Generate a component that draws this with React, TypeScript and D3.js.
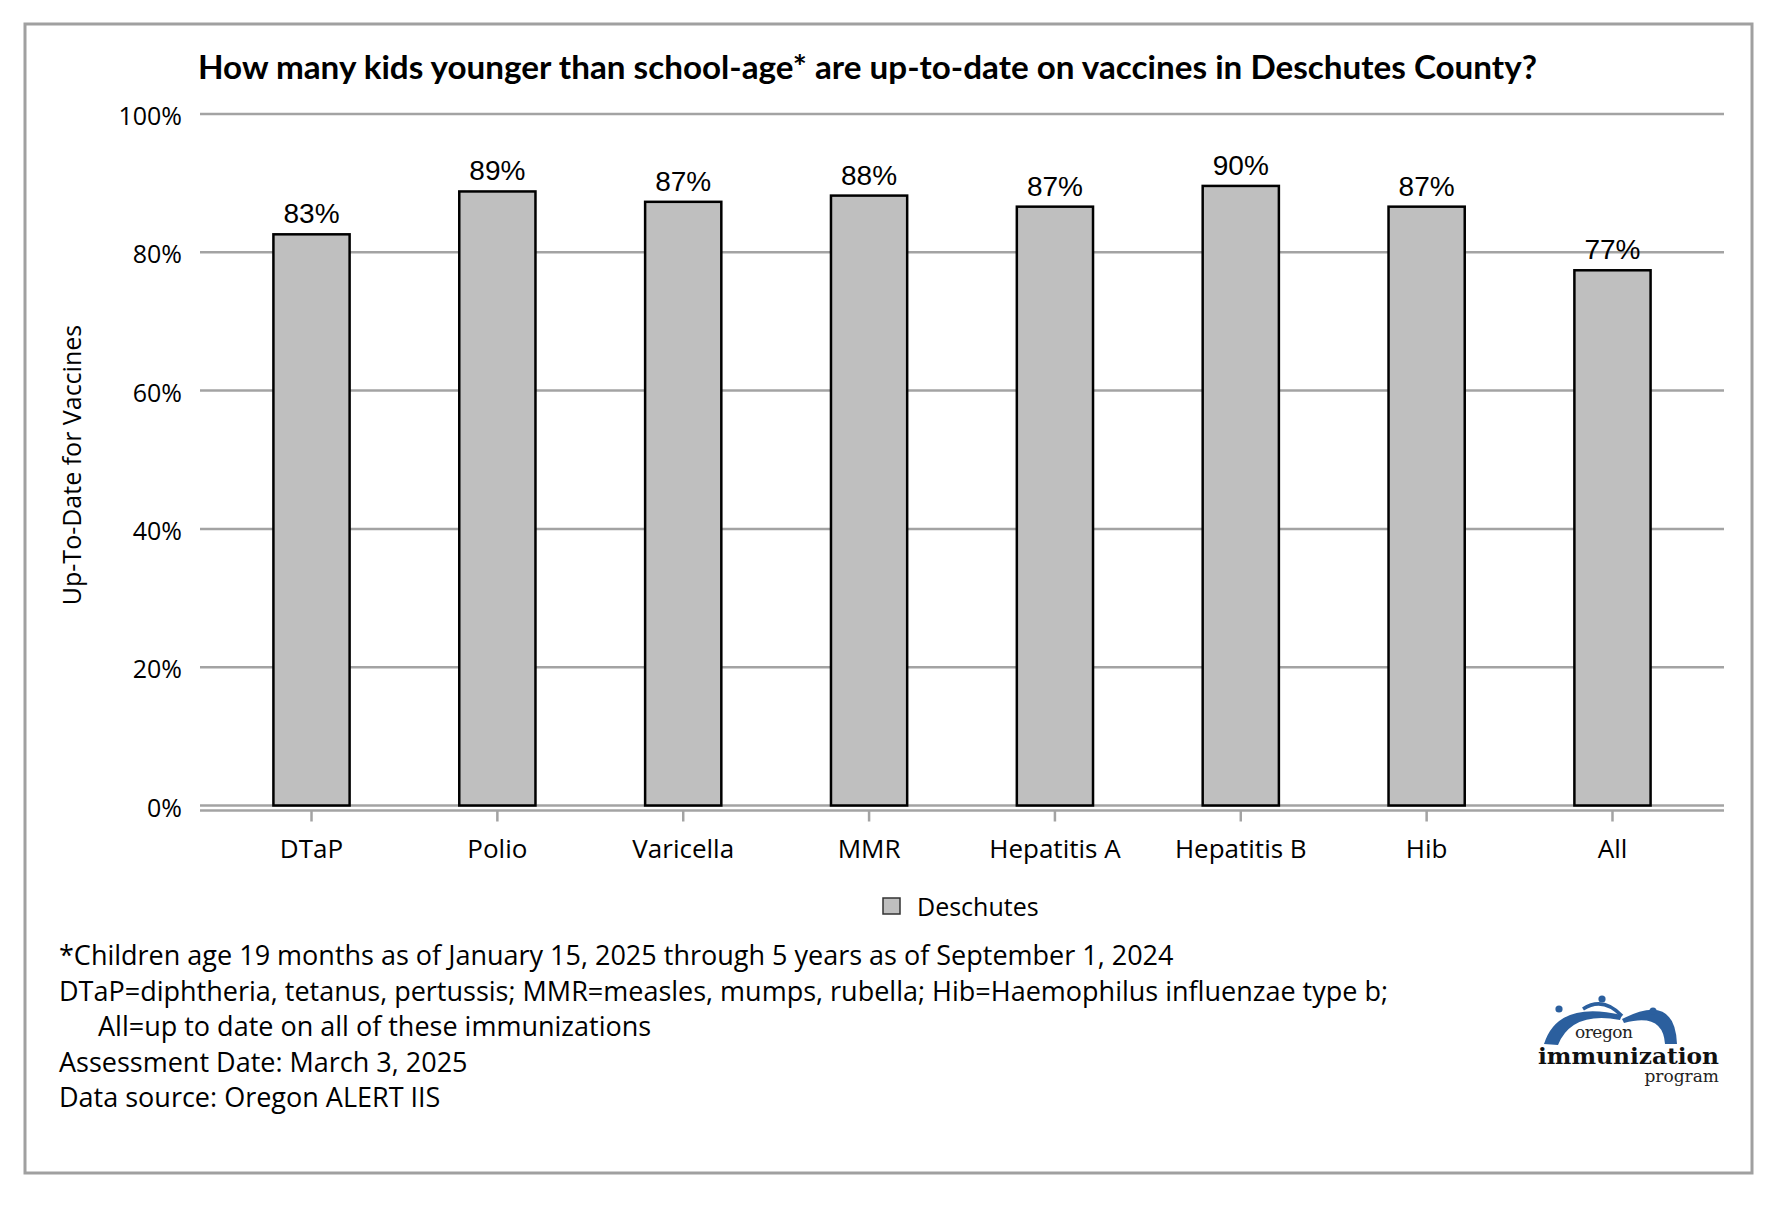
import React, { useEffect, useRef } from 'react';
import * as d3 from 'd3';

const categories = ['DTaP', 'Polio', 'Varicella', 'MMR', 'Hepatitis A', 'Hepatitis B', 'Hib', 'All'];
const upToDate = [82.6, 88.8, 87.3, 88.2, 86.6, 89.6, 86.6, 77.4];
const yTicks = [0, 20, 40, 60, 80, 100];
const seriesName = 'Deschutes';

const title = 'How many kids younger than school-age* are up-to-date on vaccines in Deschutes County?';
const yTitle = 'Up-To-Date for Vaccines';
const footnotes = [
  { text: '*Children age 19 months as of January 15, 2025 through 5 years as of September 1, 2024', indent: false },
  { text: 'DTaP=diphtheria, tetanus, pertussis; MMR=measles, mumps, rubella; Hib=Haemophilus influenzae type b;', indent: false },
  { text: 'All=up to date on all of these immunizations', indent: true },
  { text: 'Assessment Date: March 3, 2025', indent: false },
  { text: 'Data source: Oregon ALERT IIS', indent: false },
];

const W = 1784;
const H = 1212;
const SANS = '"Open Sans", "Noto Sans", sans-serif';
const GRID = '#a3a3a3';

const App: React.FC = () => {
  const svgRef = useRef<SVGSVGElement>(null);

  useEffect(() => {
    if (!svgRef.current) return;
    const svg = d3.select(svgRef.current);
    svg.selectAll('*').remove();

    const x = d3.scaleBand<string>()
      .domain(categories)
      .range([200, 1724])
      .paddingInner(0)
      .paddingOuter(0.1);
    const y = d3.scaleLinear().domain([0, 100]).range([805.5, 114]);
    const barW = x.bandwidth() * 0.41;
    const cx = (c: string) => (x(c) || 0) + x.bandwidth() / 2;

    // frame
    svg.append('rect')
      .attr('x', 25).attr('y', 24)
      .attr('width', 1727).attr('height', 1149)
      .attr('fill', '#fff')
      .attr('stroke', '#a0a0a0')
      .attr('stroke-width', 3);

    // title
    svg.append('text')
      .attr('x', 198).attr('y', 79)
      .attr('font-family', 'Lato, "Open Sans", sans-serif')
      .attr('font-weight', 700)
      .attr('font-size', 32)
      .attr('textLength', 1339)
      .attr('lengthAdjust', 'spacingAndGlyphs')
      .attr('fill', '#000')
      .text(title);

    // gridlines + y labels
    const grid = svg.append('g');
    yTicks.forEach(t => {
      grid.append('line')
        .attr('x1', 200).attr('x2', 1724)
        .attr('y1', y(t)).attr('y2', y(t))
        .attr('stroke', GRID).attr('stroke-width', 2.5);
      grid.append('text')
        .attr('x', 182).attr('y', y(t) + 11)
        .attr('text-anchor', 'end')
        .attr('font-family', SANS)
        .attr('font-size', 25)
        .text(`${t}%`);
    });
    // floor line under the axis
    grid.append('line')
      .attr('x1', 200).attr('x2', 1724)
      .attr('y1', y(0) + 5).attr('y2', y(0) + 5)
      .attr('stroke', GRID).attr('stroke-width', 2.5);

    // x ticks + labels
    categories.forEach(c => {
      grid.append('line')
        .attr('x1', cx(c)).attr('x2', cx(c))
        .attr('y1', y(0) + 5).attr('y2', y(0) + 16)
        .attr('stroke', GRID).attr('stroke-width', 2.5);
      grid.append('text')
        .attr('x', cx(c)).attr('y', 858)
        .attr('text-anchor', 'middle')
        .attr('font-family', SANS)
        .attr('font-size', 26)
        .text(c);
    });

    // bars
    const bars = svg.append('g');
    categories.forEach((c, i) => {
      const v = upToDate[i];
      bars.append('rect')
        .attr('x', cx(c) - barW / 2)
        .attr('y', y(v))
        .attr('width', barW)
        .attr('height', y(0) - y(v))
        .attr('fill', '#bfbfbf')
        .attr('stroke', '#000')
        .attr('stroke-width', 2.5);
      bars.append('text')
        .attr('x', cx(c)).attr('y', y(v) - 11)
        .attr('text-anchor', 'middle')
        .attr('font-family', '"Liberation Sans", Arial, sans-serif')
        .attr('font-size', 28)
        .text(`${Math.round(v)}%`);
    });

    // y title
    svg.append('text')
      .attr('transform', 'translate(81,465) rotate(-90)')
      .attr('text-anchor', 'middle')
      .attr('font-family', SANS)
      .attr('font-size', 25)
      .text(yTitle);

    // legend
    svg.append('rect')
      .attr('x', 883).attr('y', 898)
      .attr('width', 17).attr('height', 16)
      .attr('fill', '#bfbfbf')
      .attr('stroke', '#333')
      .attr('stroke-width', 1.5);
    svg.append('text')
      .attr('x', 917).attr('y', 916)
      .attr('font-family', SANS)
      .attr('font-size', 25)
      .text(seriesName);

    // footnotes
    footnotes.forEach((f, i) => {
      svg.append('text')
        .attr('x', f.indent ? 98 : 59)
        .attr('y', 965 + i * 35.5)
        .attr('font-family', SANS)
        .attr('font-size', 27)
        .text(f.text);
    });

    // logo
    const logo = svg.append('g');
    const blue = '#2b5f9e';
    logo.append('path')
      .attr('d', 'M1544,1044 Q1558,1000 1622,1015 L1620,1020 Q1572,1011 1558,1045 Z')
      .attr('fill', blue);
    logo.append('path')
      .attr('d', 'M1583,1009 Q1603,996 1622,1016')
      .attr('fill', 'none').attr('stroke', blue).attr('stroke-width', 3.5);
    logo.append('path')
      .attr('d', 'M1622,1019 Q1675,992 1677,1044 L1665,1044 Q1663,1012 1624,1023 Z')
      .attr('fill', blue);
    [[1559, 1009], [1602, 999], [1653, 1011]].forEach(([px, py]) => {
      logo.append('circle').attr('cx', px).attr('cy', py).attr('r', 3.6).attr('fill', blue);
    });
    logo.append('text')
      .attr('x', 1575).attr('y', 1038)
      .attr('font-family', '"DejaVu Serif", serif')
      .attr('font-size', 17)
      .attr('textLength', 58)
      .attr('fill', '#222')
      .text('oregon');
    logo.append('text')
      .attr('x', 1538).attr('y', 1064)
      .attr('font-family', '"DejaVu Serif", serif')
      .attr('font-weight', 700)
      .attr('font-size', 23)
      .attr('textLength', 181)
      .attr('lengthAdjust', 'spacingAndGlyphs')
      .attr('fill', '#111')
      .text('immunization');
    logo.append('text')
      .attr('x', 1719).attr('y', 1082)
      .attr('text-anchor', 'end')
      .attr('font-family', '"DejaVu Serif", serif')
      .attr('font-size', 17)
      .attr('fill', '#222')
      .text('program');
  }, []);

  return (
    <svg
      ref={svgRef}
      width={W}
      height={H}
      style={{ position: 'absolute', left: 0, top: 0, background: '#fff' }}
    />
  );
};

export default App;
